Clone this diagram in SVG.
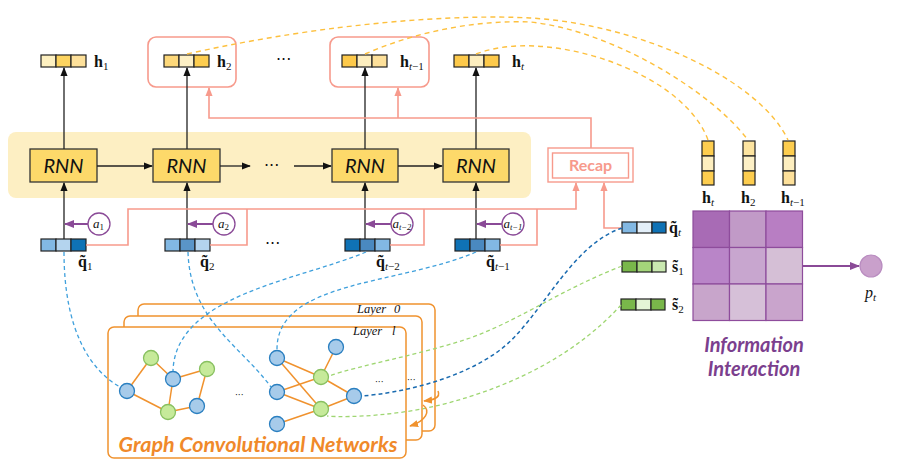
<svg xmlns="http://www.w3.org/2000/svg" width="914" height="469" viewBox="0 0 914 469">
<style>
.vb{stroke:#222;stroke-width:1.2}
.lbl{font-family:"Liberation Serif",serif;font-size:16px;fill:#111}
.b{font-weight:bold}
.sub{font-size:11px;font-weight:normal}
.it{font-style:italic}
.rnn{fill:#fdd96a;stroke:#333;stroke-width:1.3}
.rnnt{font-family:Lato,"Liberation Sans",sans-serif;font-style:italic;font-size:20px;fill:#111;text-anchor:middle}
.ac{fill:#fff;stroke:#8a4a97;stroke-width:1.3}
.al{font-family:"Liberation Serif",serif;font-size:13px;font-style:italic;fill:#111}
.as{font-size:9px;font-style:normal}
.ast{font-size:8.5px}
.layt{font-family:"Liberation Serif",serif;font-size:12.5px;font-style:italic;fill:#111}
.blk{stroke:#222;stroke-width:1.3;fill:none}
.pink{stroke:#f79a8c;stroke-width:1.6;fill:none}
.pur{stroke:#8a4a97;stroke-width:2;fill:none}
.ydash{stroke:#fdc03e;stroke-width:1.4;fill:none;stroke-dasharray:5 4}
.bdash{stroke:#3fa0dc;stroke-width:1.3;fill:none;stroke-dasharray:4 3}
.ddash{stroke:#1a6bb0;stroke-width:1.5;fill:none;stroke-dasharray:4 3}
.gdash{stroke:#9fd672;stroke-width:1.3;fill:none;stroke-dasharray:4 3}
.lay{fill:#fff;stroke:#f0922e;stroke-width:1.5}
.edge{stroke:#f0922e;stroke-width:1.5}
.nb{fill:#a7cbea;stroke:#2a7fc0;stroke-width:1.3}
.ng{fill:#c6ea9a;stroke:#88c060;stroke-width:1.3}
.dots{font-family:"DejaVu Sans",sans-serif;font-size:16px;fill:#111}
.sdots{font-family:"DejaVu Sans",sans-serif;font-size:9px;fill:#111}
.mc{stroke:#8e4c9c;stroke-width:1.2}
.big{font-family:Lato,"Liberation Sans",sans-serif;font-weight:bold;font-style:italic;text-anchor:middle}
</style>
<defs>
<marker id="ab" viewBox="0 0 10 10" refX="9" refY="5" markerWidth="9" markerHeight="9" markerUnits="userSpaceOnUse" orient="auto"><path d="M0,1 L10,5 L0,9 z" fill="#111"/></marker>
<marker id="ap" viewBox="0 0 10 10" refX="9" refY="5" markerWidth="9" markerHeight="9" markerUnits="userSpaceOnUse" orient="auto"><path d="M0,1 L10,5 L0,9 z" fill="#f79a8c"/></marker>
<marker id="au" viewBox="0 0 10 10" refX="9" refY="5" markerWidth="10" markerHeight="10" markerUnits="userSpaceOnUse" orient="auto"><path d="M0,1 L10,5 L0,9 z" fill="#8a4a97"/></marker>
<marker id="ao" viewBox="0 0 10 10" refX="9" refY="5" markerWidth="9" markerHeight="9" markerUnits="userSpaceOnUse" orient="auto"><path d="M0,1 L10,5 L0,9 z" fill="#f0922e"/></marker>
</defs>
<rect width="914" height="469" fill="#fff"/>

<g id="rnn-band"><rect x="8" y="132" width="523" height="66" rx="8" fill="#fdefc3"/></g>

<g id="h1">
<rect x="41" y="55" width="15" height="12" fill="#fdf0c0" class="vb"/><rect x="56" y="55" width="15" height="12" fill="#fdd460" class="vb"/><rect x="71" y="55" width="15" height="12" fill="#fde09a" class="vb"/>
<text x="94" y="67" class="lbl"><tspan class="b">h</tspan><tspan class="sub" dy="3">1</tspan></text>
</g>
<g id="h2">
<rect x="148" y="37" width="88" height="50" rx="8" fill="none" stroke="#f79a8c" stroke-width="1.6"/>
<rect x="164" y="55" width="15" height="12" fill="#fdd87a" class="vb"/><rect x="179" y="55" width="15" height="12" fill="#fdf0c6" class="vb"/><rect x="194" y="55" width="15" height="12" fill="#fdcd4f" class="vb"/>
<text x="217" y="67" class="lbl"><tspan class="b">h</tspan><tspan class="sub" dy="3">2</tspan></text>
</g>
<g id="hdots"><text x="276" y="65" class="dots">···</text></g>
<g id="ht1">
<rect x="330" y="37" width="99" height="50" rx="8" fill="none" stroke="#f79a8c" stroke-width="1.6"/>
<rect x="342" y="55" width="15" height="12" fill="#fdc94a" class="vb"/><rect x="357" y="55" width="15" height="12" fill="#fdeebf" class="vb"/><rect x="372" y="55" width="15" height="12" fill="#fde09a" class="vb"/>
<text x="400" y="67" class="lbl"><tspan class="b">h</tspan><tspan class="sub" dy="3"><tspan class="it">t</tspan>−1</tspan></text>
</g>
<g id="ht">
<rect x="454" y="55" width="15" height="12" fill="#fdc94a" class="vb"/><rect x="469" y="55" width="15" height="12" fill="#fdeebf" class="vb"/><rect x="484" y="55" width="15" height="12" fill="#fdc94a" class="vb"/>
<text x="512" y="67" class="lbl"><tspan class="b">h</tspan><tspan class="sub it" dy="3">t</tspan></text>
</g>

<g id="rnn1"><rect x="30" y="149" width="67" height="33" class="rnn"/><text x="63.5" y="173" class="rnnt">RNN</text></g>
<g id="rnn2"><rect x="153" y="149" width="67" height="33" class="rnn"/><text x="186.5" y="173" class="rnnt">RNN</text></g>
<g id="rnndots"><text x="264" y="171" class="dots">···</text></g>
<g id="rnn3"><rect x="332" y="149" width="66" height="33" class="rnn"/><text x="365" y="173" class="rnnt">RNN</text></g>
<g id="rnn4"><rect x="443" y="149" width="66" height="33" class="rnn"/><text x="476" y="173" class="rnnt">RNN</text></g>

<g id="recap">
<rect x="548" y="148" width="85" height="34" fill="#fff" stroke="#f79a8c" stroke-width="1.4"/>
<rect x="552.5" y="153" width="76" height="25" fill="none" stroke="#f79a8c" stroke-width="1.4"/>
<text x="590.5" y="171" font-family="Lato,'Liberation Sans',sans-serif" font-weight="bold" font-size="16" fill="#f79a8c" text-anchor="middle">Recap</text>
</g>

<g id="a1"><circle cx="99" cy="224" r="11" class="ac"/><text x="93" y="228" class="al">a<tspan class="as" dy="2">1</tspan></text></g>
<g id="a2"><circle cx="224" cy="224" r="11" class="ac"/><text x="218" y="228" class="al">a<tspan class="as" dy="2">2</tspan></text></g>
<g id="at2"><circle cx="402" cy="224" r="11" class="ac"/><text x="392.5" y="228" class="al">a<tspan class="ast" dy="2">t−2</tspan></text></g>
<g id="at1"><circle cx="513" cy="224" r="11" class="ac"/><text x="503.5" y="228" class="al">a<tspan class="ast" dy="2">t−1</tspan></text></g>

<g id="q1">
<rect x="41" y="239" width="15" height="12" fill="#82b8e3" class="vb"/><rect x="56" y="239" width="15" height="12" fill="#b4d4ee" class="vb"/><rect x="71" y="239" width="15" height="12" fill="#0f72b5" class="vb"/>
<text x="78" y="267" class="lbl"><tspan class="b">q̃</tspan><tspan class="sub" dy="3">1</tspan></text>
</g>
<g id="q2">
<rect x="165" y="239" width="15" height="12" fill="#82b8e3" class="vb"/><rect x="180" y="239" width="15" height="12" fill="#5a95c8" class="vb"/><rect x="195" y="239" width="15" height="12" fill="#b4d4ee" class="vb"/>
<text x="200" y="267" class="lbl"><tspan class="b">q̃</tspan><tspan class="sub" dy="3">2</tspan></text>
</g>
<g id="qdots"><text x="265" y="249" class="dots">···</text></g>
<g id="qt2">
<rect x="345" y="239" width="15" height="12" fill="#0f72b5" class="vb"/><rect x="360" y="239" width="15" height="12" fill="#4a89c0" class="vb"/><rect x="375" y="239" width="15" height="12" fill="#82b8e3" class="vb"/>
<text x="376" y="267" class="lbl"><tspan class="b">q̃</tspan><tspan class="sub" dy="3"><tspan class="it">t</tspan>−2</tspan></text>
</g>
<g id="qt1">
<rect x="455" y="239" width="15" height="12" fill="#0f72b5" class="vb"/><rect x="470" y="239" width="15" height="12" fill="#4a89c0" class="vb"/><rect x="485" y="239" width="15" height="12" fill="#82b8e3" class="vb"/>
<text x="486" y="267" class="lbl"><tspan class="b">q̃</tspan><tspan class="sub" dy="3"><tspan class="it">t</tspan>−1</tspan></text>
</g>
<g id="qt">
<rect x="622" y="222" width="15" height="11" fill="#82b8e3" class="vb"/><rect x="637" y="222" width="15" height="11" fill="#e3eff9" class="vb"/><rect x="652" y="222" width="14" height="11" fill="#0f72b5" class="vb"/>
<text x="669" y="233" class="lbl"><tspan class="b">q̃</tspan><tspan class="sub it" dy="3">t</tspan></text>
</g>
<g id="s1">
<rect x="622" y="261" width="15" height="11" fill="#79b74a" class="vb"/><rect x="637" y="261" width="15" height="11" fill="#a4d57a" class="vb"/><rect x="652" y="261" width="14" height="11" fill="#c9e8b0" class="vb"/>
<text x="672" y="272" class="lbl"><tspan class="b">s̃</tspan><tspan class="sub" dy="3">1</tspan></text>
</g>
<g id="s2">
<rect x="621" y="299" width="15" height="11" fill="#79b74a" class="vb"/><rect x="636" y="299" width="15" height="11" fill="#e4f5d5" class="vb"/><rect x="651" y="299" width="14" height="11" fill="#79b74a" class="vb"/>
<text x="672" y="310" class="lbl"><tspan class="b">s̃</tspan><tspan class="sub" dy="3">2</tspan></text>
</g>

<g id="vht">
<rect x="702" y="141" width="12" height="15" fill="#fdcd4f" class="vb"/><rect x="702" y="156" width="12" height="15" fill="#fdeebf" class="vb"/><rect x="702" y="171" width="12" height="14" fill="#fdcd4f" class="vb"/>
<text x="702" y="203" class="lbl"><tspan class="b">h</tspan><tspan class="sub it" dy="3">t</tspan></text>
</g>
<g id="vh2">
<rect x="743" y="141" width="12" height="15" fill="#fde4a0" class="vb"/><rect x="743" y="156" width="12" height="15" fill="#fdf0c6" class="vb"/><rect x="743" y="171" width="12" height="14" fill="#fdcd4f" class="vb"/>
<text x="741" y="203" class="lbl"><tspan class="b">h</tspan><tspan class="sub" dy="3">2</tspan></text>
</g>
<g id="vht1">
<rect x="783" y="141" width="12" height="15" fill="#fdcd4f" class="vb"/><rect x="783" y="156" width="12" height="15" fill="#fdeebf" class="vb"/><rect x="783" y="171" width="12" height="14" fill="#fde09a" class="vb"/>
<text x="781" y="203" class="lbl"><tspan class="b">h</tspan><tspan class="sub" dy="3"><tspan class="it">t</tspan>−1</tspan></text>
</g>

<g id="matrix">
<rect x="693" y="211" width="36.5" height="36.5" fill="#a86bb5" class="mc"/>
<rect x="729.5" y="211" width="36.5" height="36.5" fill="#c19ac7" class="mc"/>
<rect x="766" y="211" width="36.5" height="36.5" fill="#b87ec3" class="mc"/>
<rect x="693" y="247.5" width="36.5" height="36.5" fill="#b985c8" class="mc"/>
<rect x="729.5" y="247.5" width="36.5" height="36.5" fill="#c8a6cf" class="mc"/>
<rect x="766" y="247.5" width="36.5" height="36.5" fill="#d5bfd6" class="mc"/>
<rect x="693" y="284" width="36.5" height="36.5" fill="#c8a5cb" class="mc"/>
<rect x="729.5" y="284" width="36.5" height="36.5" fill="#d6c0d8" class="mc"/>
<rect x="766" y="284" width="36.5" height="36.5" fill="#c9a4cc" class="mc"/>
<text x="754" y="352" class="big" font-size="20" fill="#7b3f8e">Information</text>
<text x="754" y="376" class="big" font-size="20" fill="#7b3f8e">Interaction</text>
</g>
<g id="pt">
<circle cx="871" cy="266" r="11" fill="#c9a0cb" stroke="#b98cc0" stroke-width="1.2"/>
<text x="865" y="298" class="lbl it">p<tspan class="sub" dy="3">t</tspan></text>
</g>

<g id="gcn">
<rect x="138" y="304" width="297" height="127" rx="6" class="lay"/>
<text x="357" y="313" class="layt">Layer</text><text x="394" y="313" class="layt">0</text>
<rect x="124" y="316" width="298" height="124" rx="6" class="lay"/>
<rect x="108" y="327" width="298" height="131" rx="6" class="lay"/>
<text x="353" y="335" class="layt">Layer</text><text x="392" y="335" class="layt">l</text>
<g>
<line x1="127" y1="391" x2="151" y2="358" class="edge"/>
<line x1="127" y1="391" x2="168" y2="412" class="edge"/>
<line x1="151" y1="358" x2="173" y2="379" class="edge"/>
<line x1="173" y1="379" x2="207" y2="369" class="edge"/>
<line x1="173" y1="379" x2="168" y2="412" class="edge"/>
<line x1="207" y1="369" x2="197" y2="406" class="edge"/>
<line x1="168" y1="412" x2="197" y2="406" class="edge"/>
<line x1="277" y1="358" x2="321" y2="377" class="edge"/>
<line x1="277" y1="358" x2="321" y2="409" class="edge"/>
<line x1="277" y1="392" x2="321" y2="377" class="edge"/>
<line x1="277" y1="392" x2="321" y2="409" class="edge"/>
<line x1="277" y1="424" x2="321" y2="409" class="edge"/>
<line x1="336" y1="347" x2="321" y2="377" class="edge"/>
<line x1="321" y1="377" x2="354" y2="396" class="edge"/>
<line x1="321" y1="409" x2="354" y2="396" class="edge"/>
</g>
<circle cx="127" cy="391" r="7.5" class="nb"/>
<circle cx="151" cy="358" r="7.5" class="ng"/>
<circle cx="173" cy="379" r="7.5" class="nb"/>
<circle cx="207" cy="369" r="7.5" class="ng"/>
<circle cx="168" cy="412" r="7.5" class="ng"/>
<circle cx="197" cy="406" r="7.5" class="nb"/>
<circle cx="277" cy="358" r="7.5" class="nb"/>
<circle cx="277" cy="392" r="7.5" class="nb"/>
<circle cx="277" cy="424" r="7.5" class="nb"/>
<circle cx="336" cy="347" r="7.5" class="nb"/>
<circle cx="321" cy="377" r="7.5" class="ng"/>
<circle cx="321" cy="409" r="7.5" class="ng"/>
<circle cx="354" cy="396" r="7.5" class="nb"/>
<text x="235" y="398" class="sdots">···</text>
<text x="375" y="385" class="sdots">···</text>
<text x="407" y="383" class="sdots">···</text>
<text x="258" y="452" class="big" font-size="21.5" fill="#f0892a">Graph Convolutional Networks</text>
</g>

<g id="connectors">
<path d="M64,149 V68" class="blk" marker-end="url(#ab)"/>
<path d="M187,149 V68" class="blk" marker-end="url(#ab)"/>
<path d="M365,149 V68" class="blk" marker-end="url(#ab)"/>
<path d="M476,149 V68" class="blk" marker-end="url(#ab)"/>
<path d="M97,166 H152" class="blk" marker-end="url(#ab)"/>
<path d="M220,166 H250" class="blk" marker-end="url(#ab)"/>
<path d="M294,166 H331" class="blk" marker-end="url(#ab)"/>
<path d="M398,166 H442" class="blk" marker-end="url(#ab)"/>
<path d="M64,239 V183" class="blk" marker-end="url(#ab)"/>
<path d="M187,239 V183" class="blk" marker-end="url(#ab)"/>
<path d="M365,239 V183" class="blk" marker-end="url(#ab)"/>
<path d="M476,239 V183" class="blk" marker-end="url(#ab)" stroke="#555"/>
<path d="M88,224 H65" class="pur" marker-end="url(#au)"/>
<path d="M213,224 H188" class="pur" marker-end="url(#au)"/>
<path d="M391,224 H366" class="pur" marker-end="url(#au)"/>
<path d="M502,224 H477" class="pur" marker-end="url(#au)"/>
<path d="M86,245 H128 V209 H576 V183" class="pink" marker-end="url(#ap)"/>
<path d="M210,245 H247 V209" class="pink"/>
<path d="M390,245 H424 V209" class="pink"/>
<path d="M500,245 H537 V209" class="pink"/>
<path d="M622,228 H604 V183" class="pink" marker-end="url(#ap)"/>
<path d="M591,148 V118 H209 V88" class="pink" marker-end="url(#ap)"/>
<path d="M398,118 V88" class="pink" marker-end="url(#ap)"/>
<path d="M187,54 C330,22 460,14 530,18 C640,24 760,80 788,140" class="ydash"/>
<path d="M365,54 C420,30 480,20 530,22 C610,30 710,90 748,140" class="ydash"/>
<path d="M476,54 C495,47 515,45 535,46 C610,50 690,90 708,140" class="ydash"/>
<path d="M64,252 C64,330 90,370 120,387" class="bdash"/>
<path d="M188,252 C190,320 240,345 271,387" class="bdash"/>
<path d="M366,252 C300,280 175,295 173,371" class="bdash"/>
<path d="M476,252 C400,285 276,280 277,350" class="bdash"/>
<path d="M622,228 C570,245 540,320 500,350 C460,380 400,393 362,396" class="ddash"/>
<path d="M622,266 C560,290 520,320 470,338 C420,355 360,365 329,376" class="gdash"/>
<path d="M621,305 C580,350 520,385 440,405 C400,415 350,418 327,416" class="gdash"/>
<path d="M438,391 C441,398 433,400 424,401" fill="none" stroke="#f0922e" stroke-width="1.5" marker-end="url(#ao)"/>
<path d="M423,405 C431,411 426,421 410,426" fill="none" stroke="#f0922e" stroke-width="1.5" marker-end="url(#ao)"/>
<path d="M803,266 H859" class="pur" stroke-width="2.5" marker-end="url(#au)"/>
</g>
</svg>
